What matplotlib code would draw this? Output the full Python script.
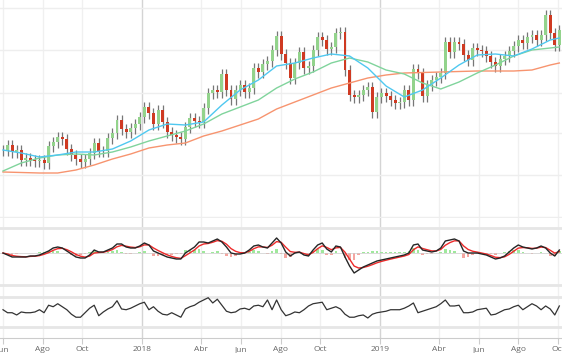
import numpy as np
import pandas as pd
import matplotlib
matplotlib.use("Agg")
import matplotlib.pyplot as plt
import matplotlib.dates as mdates

# weekly samples, first one on 2017-06-01
start = "2017-06-01"

close = [10.0, 10.5, 9.8, 10.0, 9.0, 9.2, 9.0, 8.9, 9.0, 8.7,
         10.4, 10.8, 11.3, 11.1, 10.1, 9.5, 9.1, 8.8, 9.1, 9.7,
         10.7, 9.9, 9.9, 11.2, 11.7, 13.0, 12.1, 11.8, 12.2, 12.6,
         13.3, 14.3, 13.7, 12.6, 14.0, 12.8, 11.8, 11.5, 11.3, 11.1,
         12.3, 13.2, 12.9, 12.8, 14.2, 15.7, 16.0, 15.8, 17.6, 16.0,
         15.1, 16.0, 16.5, 15.8, 16.2, 18.2, 17.8, 18.6, 18.9, 20.0,
         21.4, 19.6, 18.7, 17.2, 18.7, 19.8, 18.2, 18.4, 20.0, 21.3,
         21.0, 20.1, 20.3, 21.7, 21.8, 18.0, 15.5, 15.3, 15.5, 16.0,
         16.3, 13.8, 15.3, 15.7, 15.4, 15.0, 14.7, 14.8, 16.0, 15.0,
         18.1, 17.7, 15.4, 16.5, 17.0, 17.3, 17.7, 20.8, 19.8, 20.8,
         20.6, 19.5, 19.0, 20.2, 20.0, 19.9, 19.4, 18.8, 18.4, 19.1,
         19.4, 19.9, 20.4, 21.0, 20.7, 21.3, 21.5, 21.0, 21.5, 23.5,
         21.7, 20.5, 22.0]

macd = [0.0, -0.2, -0.4, -0.4, -0.4, -0.4, -0.3, -0.3, -0.2, 0.0,
        0.2, 0.5, 0.6, 0.5, 0.2, -0.1, -0.4, -0.5, -0.5, -0.2,
        0.3, 0.1, 0.1, 0.3, 0.5, 0.9, 0.9, 0.6, 0.5, 0.5,
        0.7, 1.0, 0.8, 0.2, 0.0, -0.2, -0.4, -0.5, -0.6, -0.6,
        0.0, 0.3, 0.6, 1.1, 1.1, 1.0, 1.2, 1.4, 1.1, 0.6,
        0.0, -0.1, -0.1, 0.0, 0.3, 0.7, 0.8, 0.6, 0.5, 1.0,
        1.5, 1.0, 0.1, -0.3, 0.0, 0.1, -0.2, -0.3, 0.3, 0.8,
        1.0, 0.4, 0.1, 0.7, 0.6, -0.4, -1.3, -2.0, -1.7, -1.4,
        -1.2, -1.0, -0.8, -0.7, -0.6, -0.5, -0.4, -0.3, -0.2, 0.0,
        0.8, 0.9, 0.3, 0.2, 0.1, 0.2, 0.5, 1.2, 1.3, 1.4,
        1.2, 0.2, 0.0, 0.0, 0.0, -0.1, -0.2, -0.4, -0.6, -0.5,
        -0.3, 0.1, 0.5, 0.8, 0.6, 0.5, 0.4, 0.5, 0.7, 0.5,
        0.0, -0.3, 0.3]

rsi = [53, 49, 49, 46, 50, 49, 49, 50, 53, 49,
       59, 57, 61, 57, 53, 47, 43, 43, 49, 55,
       59, 45, 50, 54, 57, 65, 54, 53, 55, 58,
       61, 63, 53, 57, 51, 47, 46, 49, 46, 43,
       54, 57, 59, 63, 66, 69, 62, 67, 59, 51,
       49, 50, 54, 55, 53, 58, 59, 57, 66, 53,
       66, 53, 45, 47, 50, 49, 53, 58, 61, 62,
       63, 53, 55, 57, 54, 47, 43, 43, 45, 46,
       42, 47, 49, 50, 51, 53, 53, 53, 55, 58,
       62, 49, 51, 53, 55, 57, 61, 66, 58, 58,
       59, 49, 49, 50, 53, 54, 55, 46, 47, 50,
       53, 54, 57, 59, 53, 57, 61, 58, 53, 58,
       54, 46, 58]

# moving averages, read every 4th week
ma_idx = list(range(0, 121, 4)) + [122]
ma_fast = [10.0, 9.7, 9.3, 9.5, 9.8, 9.8, 10.1, 10.9, 12.0, 12.6, 12.5, 12.8, 14.5, 16.0, 17.0, 18.4,
           18.7, 19.2, 19.6, 19.4, 18.2, 16.4, 15.3, 16.0, 17.2, 18.5, 19.5, 19.6, 19.4, 20.1, 21.0, 21.2]
ma_mid = [7.9, 8.7, 9.2, 9.5, 9.6, 9.5, 9.8, 10.3, 10.9, 11.4, 11.9, 12.6, 13.6, 14.3, 15.0, 16.2,
          17.1, 17.8, 18.7, 19.2, 18.8, 18.0, 17.6, 16.7, 16.1, 16.8, 17.7, 18.5, 19.4, 20.0, 20.2, 20.3]
ma_slow = [7.8, 7.75, 7.7, 7.7, 8.0, 8.5, 9.1, 9.6, 10.2, 10.5, 10.7, 11.4, 11.9, 12.5, 13.1, 14.1,
           14.8, 15.5, 16.2, 16.7, 17.2, 17.5, 17.7, 17.75, 17.8, 17.85, 17.9, 17.9, 17.9, 18.0, 18.5, 18.7]

price_grid = [3.3, 7.5, 11.7, 15.7, 20.0, 24.2]
tick_dates = ["2017-06-01", "2017-08-01", "2017-10-01", "2018-01-01", "2018-04-01", "2018-06-01",
              "2018-08-01", "2018-10-01", "2019-01-01", "2019-04-01", "2019-06-01", "2019-08-01",
              "2019-10-01"]
tick_labels = ["Jun", "Ago", "Oct", "2018", "Abr", "Jun", "Ago", "Oct", "2019", "Abr", "Jun", "Ago", "Oct"]

plt.rcParams['font.family'] = ['Open Sans', 'DejaVu Sans']

dates = pd.date_range(start, periods=len(close), freq="7D")
x = mdates.date2num(dates)
close = np.array(close)
opn = np.r_[close[0], close[:-1]]  # open = previous close
wick = 0.55
hi = np.maximum(opn, close) + wick
lo = np.minimum(opn, close) - wick
up = close >= opn

macd = np.array(macd)
signal = pd.Series(macd).ewm(span=3, adjust=False).mean().values
hist = macd - signal

fig = plt.figure(figsize=(5.62, 3.53), dpi=100)
H = 353.0

def panel(top, bottom):
    return fig.add_axes([0, 1 - bottom / H, 1, (bottom - top) / H])

ax1 = panel(0, 218)
ax2 = panel(218, 290)
ax3 = panel(290, 338)

tx = mdates.date2num(pd.to_datetime(tick_dates))
xmin = tx[0] - 4.6
xmax = tx[-1] + 6.1

for ax in (ax1, ax2, ax3):
    ax.set_xlim(xmin, xmax)
    for s in ax.spines.values():
        s.set_visible(False)
    for t, lab in zip(tx, tick_labels):
        yr = lab.isdigit()
        ax.axvline(t, color='#d4d4d4' if yr else '#f0f0f0', lw=1, zorder=0)
    ax.tick_params(left=False, labelleft=False, bottom=False, labelbottom=False)

# price panel
ax1.set_ylim(3.2, 25)
ax1.set_yticks(price_grid)
ax1.grid(axis='y', color='#eeeeee', lw=1)
ax1.set_axisbelow(True)
ax1.vlines(x, lo, hi, color='#777777', lw=0.9, zorder=2)
ax1.bar(x[up], (close - opn)[up], bottom=opn[up], width=4.5, color='#93d38c', zorder=3)
ax1.bar(x[~up], (close - opn)[~up], bottom=opn[~up], width=4.5, color='#cf3a22', zorder=3)
mx = x[ma_idx]
ax1.plot(mx, ma_slow, color='#f7946f', lw=1.0, zorder=4)
ax1.plot(mx, ma_mid, color='#80d49c', lw=1.0, zorder=4)
ax1.plot(mx, ma_fast, color='#4fc8f0', lw=1.0, zorder=4)

# macd panel
ax2.set_ylim(-3.7, 3.5)
ax2.axhline(2.5, color='#e6e6e6', lw=2, zorder=0)
ax2.axhline(-3.2, color='#e6e6e6', lw=2, zorder=0)
ax2.bar(x, hist, width=4, color=np.where(hist >= 0, '#9fe89c', '#f5a5a0'), zorder=1)
ax2.axhline(0, color='#cccccc', lw=0.5, zorder=1)
ax2.plot(x, signal, color='#ee2a2a', lw=1, zorder=3)
ax2.plot(x, macd, color='#262626', lw=1, zorder=4)

# rsi panel
ax3.set_ylim(15.3, 79.3)
ax3.axhline(70, color='#e6e6e6', lw=2, zorder=0)
ax3.axhline(30, color='#e6e6e6', lw=2, zorder=0)
ax3.plot(x, rsi, color='#333333', lw=0.9, zorder=3)

ax3.spines['bottom'].set_visible(True)
ax3.spines['bottom'].set_color('#cccccc')
ax3.set_xticks(tx)
ax3.set_xticklabels(tick_labels)
ax3.tick_params(bottom=True, labelbottom=True, length=4, color='#cccccc',
                labelsize=6, labelcolor='#666666', pad=2)

fig.savefig("out.png", dpi=100)
